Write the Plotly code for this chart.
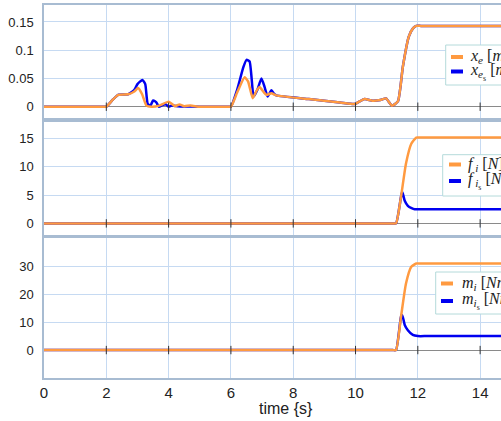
import plotly.graph_objects as go
from plotly.subplots import make_subplots

# ---- data ----
t_xe = [0, 1.9, 2.0, 2.2, 2.38, 2.7, 2.9, 3.02, 3.15, 3.29, 3.45, 3.7, 4.0, 4.2, 4.35, 4.5, 4.7, 5.0,
        5.9, 6.0, 6.2, 6.44, 6.55, 6.7, 6.82, 6.92, 7.05, 7.14, 7.3, 7.46, 8.5, 9.5, 9.97, 10.15,
        10.29, 10.55, 10.8, 10.98, 11.17, 11.36, 11.52, 11.71, 11.85, 11.95, 12.1, 12.4, 15]
x_e = [0, 0, 0, 0.012, 0.021, 0.022, 0.027, 0.033, 0.022, 0.002, 0.0, 0.002, 0.009, 0.001, 0.004,
       0.001, 0.002, 0, 0, 0, 0.025, 0.052, 0.045, 0.015, 0.028, 0.035, 0.026, 0.021, 0.024, 0.020,
       0.0135, 0.0075, 0.0047, 0.010, 0.0135, 0.0106, 0.012, 0.0147, 0.0018, 0.0093, 0.071, 0.124,
       0.139, 0.143, 0.143, 0.143, 0.143]

t_xes = [0, 1.9, 2.0, 2.2, 2.38, 2.7, 2.9, 3.0, 3.16, 3.25, 3.33, 3.42, 3.5, 3.6, 3.69, 3.8, 3.9,
         4.0, 4.1, 4.3, 4.5, 5.0, 5.9, 6.0, 6.2, 6.4, 6.5, 6.6, 6.73, 6.85, 6.98, 7.08, 7.18, 7.3,
         7.4, 7.46, 8.5, 9.5, 9.97, 10.15, 10.29, 10.55, 10.8, 10.98, 11.17, 11.36, 11.52, 11.71,
         11.85, 11.95, 12.1, 12.4, 15]
x_es = [0, 0, 0, 0.012, 0.021, 0.022, 0.03, 0.04, 0.0475, 0.04, 0.005, 0.002, 0.011, 0.008, 0.0,
        0.003, 0.0045, 0.0, 0.002, 0.001, 0.0005, 0, 0, 0, 0.03, 0.07, 0.083, 0.08, 0.018, 0.03,
        0.05, 0.035, 0.018, 0.029, 0.022, 0.020, 0.0135, 0.0075, 0.0047, 0.010, 0.0135, 0.0106,
        0.012, 0.0147, 0.0018, 0.0093, 0.071, 0.124, 0.139, 0.143, 0.143, 0.143, 0.143]

t_fi = [0, 11.0, 11.2, 11.3, 11.46, 11.62, 11.79, 11.95, 12.05, 12.3, 15]
f_i = [0, 0, 0, 0, 4.7, 10.6, 14.1, 15.2, 15.2, 15.2, 15.2]
t_fis = [0, 11.0, 11.2, 11.3, 11.46, 11.5, 11.58, 11.68, 11.8, 11.9, 12.1, 12.4, 15]
f_is = [0, 0, 0, 0, 4.7, 5.6, 4.0, 3.1, 2.7, 2.5, 2.5, 2.5, 2.5]

t_mi = [0, 11.0, 11.2, 11.3, 11.46, 11.62, 11.79, 11.95, 12.05, 12.3, 15]
m_i = [0, 0, 0, 0, 11.9, 23.8, 29.8, 31, 31, 31, 31]
t_mis = [0, 11.0, 11.2, 11.3, 11.46, 11.5, 11.58, 11.68, 11.84, 12.0, 12.3, 15]
m_is = [0, 0, 0, 0, 11.9, 12.5, 9.0, 7.1, 5.4, 5.0, 5.0, 5.0]

x_ticks = [0, 2, 4, 6, 8, 10, 12, 14]
y1_ticks = [0, 0.05, 0.1, 0.15]
y1_text = ["0", "0.05", "0.1", "0.15"]
y2_ticks = [0, 5, 10, 15]
y3_ticks = [0, 10, 20, 30]

names_main = ["<i>x</i><sub><i>e</i></sub> [<i>m</i>]",
              "<i>f</i><sub> <i>i</i></sub> [<i>N</i>]",
              "<i>m</i><sub><i>i</i></sub> [<i>Nm</i>]"]
names_s = ["<i>x</i><sub><i>e</i><sub>s</sub></sub> [<i>m</i>]",
           "<i>f</i><sub> <i>i</i><sub>s</sub></sub> [<i>N</i>]",
           "<i>m</i><sub><i>i</i><sub>s</sub></sub> [<i>Nm</i>]"]

ORANGE = "#FF9A40"
BLUE = "#0000F0"
FRAME = "#A8BCD2"
GRID = "#C6DAF2"

W, H = 501, 421
ml, mr, mt, mb = 44, 0, 5, 43
PW, PH = W - ml - mr, H - mt - mb


def px(xpix):
    return (xpix - ml) / PW


def py(ypix):
    return (H - mb - ypix) / PH


fig = make_subplots(rows=3, cols=1, shared_xaxes=True, vertical_spacing=0.01)

series = [(t_xe, x_e, t_xes, x_es), (t_fi, f_i, t_fis, f_is), (t_mi, m_i, t_mis, m_is)]
for i, (ta, ya, tb, yb) in enumerate(series):
    fig.add_trace(go.Scatter(x=tb, y=yb, mode="lines", name=names_s[i], showlegend=False,
                             line=dict(color=BLUE, width=2.5, shape="spline", smoothing=0.5)),
                  row=i + 1, col=1)
    fig.add_trace(go.Scatter(x=ta, y=ya, mode="lines", name=names_main[i], showlegend=False,
                             line=dict(color=ORANGE, width=2.5, shape="spline", smoothing=0.5)),
                  row=i + 1, col=1)
    # tick marks on the zero axis line
    fig.add_trace(go.Scatter(x=x_ticks[1:], y=[0] * (len(x_ticks) - 1), mode="markers",
                             showlegend=False, hoverinfo="skip",
                             marker=dict(symbol="line-ns", size=6,
                                         line=dict(color="#333", width=1))),
                  row=i + 1, col=1)

fig.update_layout(
    width=W, height=H,
    margin=dict(l=ml, r=mr, t=mt, b=mb, autoexpand=False),
    paper_bgcolor="white", plot_bgcolor="white",
    font=dict(family="Liberation Sans, Arial", size=13, color="#222"),
    showlegend=False,
)

doms = [(0.697, 1.0), (0.3842, 0.6871), (0.0, 0.3745)]
ranges = [(-0.02, 0.18), (-2, 18), (-10, 40)]
yt = [(y1_ticks, y1_text), (y2_ticks, [str(v) for v in y2_ticks]),
      (y3_ticks, [str(v) for v in y3_ticks])]
for i in range(3):
    fig.update_yaxes(row=i + 1, col=1, domain=doms[i], range=ranges[i],
                     tickmode="array", tickvals=yt[i][0], ticktext=yt[i][1],
                     showgrid=True, gridcolor=GRID, gridwidth=1,
                     zeroline=True, zerolinecolor="#8a8a8a", zerolinewidth=1,
                     showline=True, linecolor=FRAME, linewidth=1.5, mirror=True,
                     ticks="", ticklabelstandoff=6, automargin=False)
    fig.update_xaxes(row=i + 1, col=1, range=[0, 14.67], tickmode="array", tickvals=x_ticks,
                     showgrid=True, gridcolor=GRID, gridwidth=1, zeroline=False,
                     showline=True, linecolor=FRAME, linewidth=1.5, mirror=True,
                     ticks="", showticklabels=(i == 2), automargin=False,
                     tickfont=dict(size=15))

# ---- legend boxes (drawn as layout decorations) ----
# (box left, box top, box bottom, row1 y, row2 y, sample x0, sample x1, text x)
leg_geo = [(445.7, 45, 85, 57, 71.5, 451, 463, 468),
           (442.7, 154.7, 196, 164.5, 181, 449, 461, 466),
           (435.7, 272, 314, 283.5, 301, 441, 453, 460)]
for i, (bl, bt, bb, r1, r2, s0, s1, tx) in enumerate(leg_geo):
    fig.add_shape(type="rect", xref="paper", yref="paper", x0=px(bl), x1=px(W + 40),
                  y0=py(bb), y1=py(bt), line=dict(color="#B4DADA", width=1),
                  fillcolor="white", layer="above")
    for ry, col, name in [(r1, ORANGE, names_main[i]), (r2, BLUE, names_s[i])]:
        fig.add_shape(type="line", xref="paper", yref="paper", x0=px(s0), x1=px(s1),
                      y0=py(ry), y1=py(ry), line=dict(color=col, width=4), layer="above")
        fig.add_annotation(text=name, xref="paper", yref="paper", x=px(tx), y=py(ry),
                           xanchor="left", yanchor="middle", showarrow=False,
                           font=dict(family="Liberation Serif, DejaVu Serif", size=16,
                                     color="#222"))

fig.add_annotation(text="time {s}", xref="paper", yref="paper",
                   x=px(286), y=py(408), xanchor="center", yanchor="middle",
                   showarrow=False, font=dict(size=16, color="#222"))

fig.write_html("out.html", config={"displayModeBar": False},
               post_script="document.body.style.margin='0';document.body.style.overflow='hidden';")
